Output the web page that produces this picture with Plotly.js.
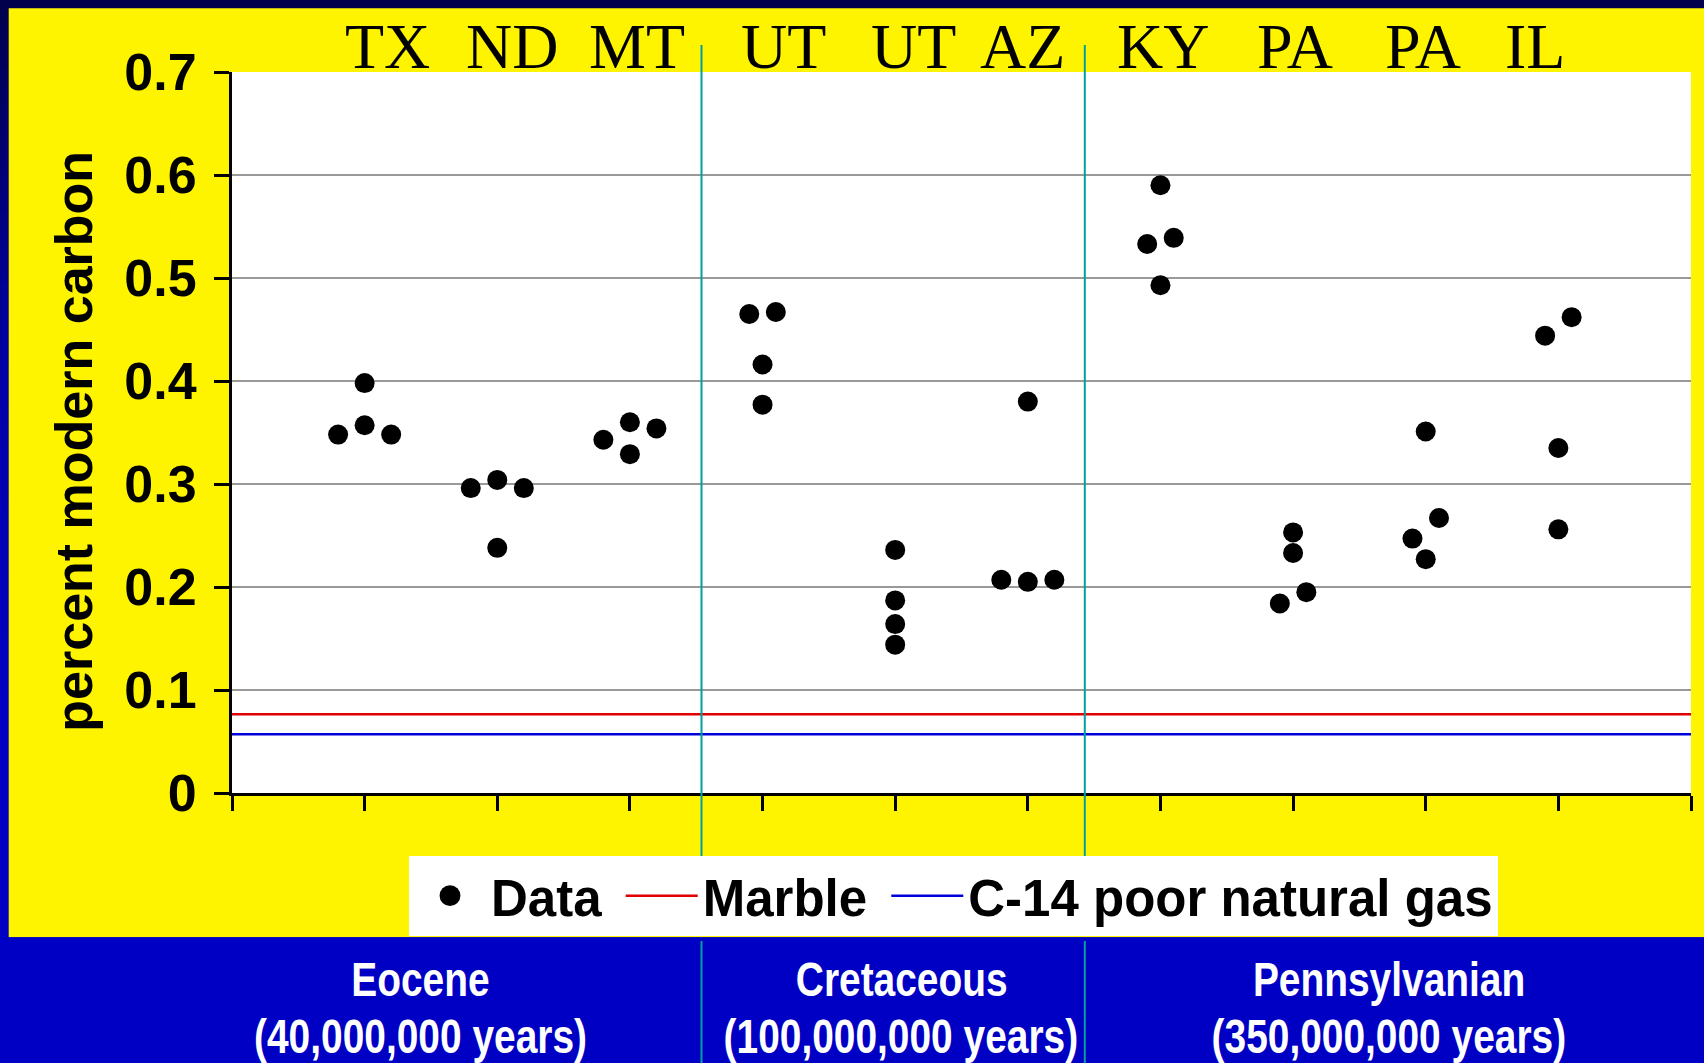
<!DOCTYPE html>
<html><head><meta charset="utf-8">
<script src="https://cdn.plot.ly/plotly-3.0.1.min.js"></script>
<style>
html,body{margin:0;padding:0;}
body{width:1704px;height:1063px;overflow:hidden;background:linear-gradient(to bottom,#00004C 0px,#0000A8 380px,#0000C2 700px,#0000C4 1063px);}
#chart{width:1704px;height:1063px;}
</style></head><body><div id="chart"></div>
<script>
// ---- data ----
const stateLabels = ['TX','ND','MT','UT','UT','AZ','KY','PA','PA','IL'];
const sampleX = [0.8,1,1,1.2, 1.8,2,2,2.2, 2.8,3,3,3.2, 3.9,4,4,4.1, 5,5,5,5,
                 5.8,6,6,6.2, 6.9,7,7,7.1, 7.9,8,8,8.1, 8.9,9,9,9.1, 9.9,10,10,10.1];
const sampleY = [0.348,0.398,0.357,0.348, 0.296,0.304,0.238,0.296, 0.343,0.360,0.329,0.354,
                 0.465,0.416,0.377,0.467, 0.236,0.187,0.164,0.144,
                 0.207,0.380,0.205,0.207, 0.533,0.590,0.493,0.539,
                 0.184,0.253,0.233,0.195, 0.247,0.351,0.227,0.267, 0.444,0.335,0.256,0.462];
const marbleLevel = 0.0765;
const gasLevel = 0.057;
const xExtent = [0, 11];
const yExtent = [0, 0.7];
const seriesNames = ['Data','Marble','C-14 poor natural gas'];
const eraNames = ['Eocene','Cretaceous','Pennsylvanian'];
const eraAges = ['(40,000,000 years)','(100,000,000 years)','(350,000,000 years)'];

// ---- layout geometry (pixels) ----
const W = 1704, H = 1063, L = 232, R = 13, T = 72, B = 270;
const PW = W - L - R, PH = H - T - B;
const px = p => (p - L) / PW;
const py = p => (H - B - p) / PH;

const SANS = 'Liberation Sans, Arial, sans-serif';
const NARROW = 'Liberation Sans Narrow, Arial Narrow, Liberation Sans, sans-serif';
const SERIF = 'Liberation Serif, Times New Roman, serif';
const NBSP = '\u00a0';

const traces = [
  {type:'scatter', mode:'markers', name:seriesNames[0] + NBSP, x:sampleX, y:sampleY,
   marker:{color:'#000000', size:20, symbol:'circle'}, cliponaxis:false},
  {type:'scatter', mode:'lines', name:seriesNames[1] + NBSP, x:xExtent, y:xExtent.map(()=>marbleLevel),
   line:{color:'#E00000', width:2.5}},
  {type:'scatter', mode:'lines', name:seriesNames[2], x:xExtent, y:xExtent.map(()=>gasLevel),
   line:{color:'#0000DD', width:2.5}}
];

const labelShift = [23,15,7,21,18,-5,3,2,-3,-23];
const eraCenters = [420.6, 901, 1389];

const annotations = [];
stateLabels.forEach((s,i)=>annotations.push({
  text:s, x:i+1, xref:'x', y:py(46.5), yref:'paper', xshift:labelShift[i],
  xanchor:'center', yanchor:'middle', showarrow:false,
  font:{family:SERIF, size:64, color:'#000'}
}));
annotations.push({
  text:'percent modern carbon', textangle:-90, x:px(73.7), xref:'paper', y:py(441), yref:'paper',
  xanchor:'center', yanchor:'middle', showarrow:false,
  font:{family:SANS, size:52, color:'#000', weight:700}
});
eraNames.forEach((n,i)=>{
  annotations.push({text:n, x:px(eraCenters[i]), xref:'paper', y:py(980), yref:'paper',
    xanchor:'center', yanchor:'middle', showarrow:false,
    font:{family:NARROW, size:48, color:'#FFFFFF', weight:700}});
  annotations.push({text:eraAges[i], x:px(eraCenters[i]), xref:'paper', y:py(1036), yref:'paper',
    xanchor:'center', yanchor:'middle', showarrow:false,
    font:{family:NARROW, size:48, color:'#FFFFFF', weight:700}});
});

const teal = '#00A0A0';
const dividers = [701.5, 1084.8];
const shapes = [
  {type:'rect', xref:'paper', yref:'paper', x0:px(8.7), x1:px(W), y0:py(8.3), y1:py(937.3),
   fillcolor:'#FFF400', line:{width:0}, layer:'below'},
  {type:'rect', xref:'paper', yref:'paper', x0:0, x1:1, y0:0, y1:1,
   fillcolor:'#FFFFFF', line:{width:0}, layer:'below'},
  {type:'rect', xref:'paper', yref:'paper', x0:px(0), x1:px(W), y0:py(937.3), y1:py(H),
   fillcolor:'#0000C4', line:{width:0}, layer:'below'}
];
dividers.forEach(d=>{
  shapes.push({type:'line', xref:'paper', yref:'paper', x0:px(d), x1:px(d), y0:py(45), y1:py(857),
    line:{color:teal, width:2}, layer:'above'});
  shapes.push({type:'line', xref:'paper', yref:'paper', x0:px(d), x1:px(d), y0:py(941), y1:py(H),
    line:{color:teal, width:2}, layer:'above'});
});

const layout = {
  width:W, height:H, margin:{l:L, r:R, t:T, b:B, pad:0},
  paper_bgcolor:'rgba(0,0,0,0)', plot_bgcolor:'#FFFFFF',
  showlegend:true,
  legend:{orientation:'h', x:px(409), y:py(856), xanchor:'left', yanchor:'top',
    bgcolor:'#FFFFFF', borderwidth:0, itemwidth:72,
    font:{family:SANS, size:51, color:'#000', weight:700}},
  xaxis:{range:xExtent, tickmode:'linear', tick0:0, dtick:1, showticklabels:false,
    ticks:'outside', ticklen:15, tickwidth:3, tickcolor:'#000',
    showline:true, linecolor:'#000', linewidth:3, showgrid:false, zeroline:false, fixedrange:true},
  yaxis:{range:yExtent, tickmode:'linear', tick0:0, dtick:0.1,
    ticks:'outside', ticklen:15, tickwidth:3, tickcolor:'#000', ticklabelstandoff:7,
    tickfont:{family:SANS, size:52, color:'#000', weight:700},
    showline:true, linecolor:'#000', linewidth:3, showgrid:true, gridcolor:'#999999', gridwidth:2.5,
    zeroline:false, fixedrange:true},
  annotations:annotations, shapes:shapes
};
Plotly.newPlot('chart', traces, layout, {displayModeBar:false, staticPlot:true}).then(gd=>{
  // the era captions use a condensed face in the original: narrow them if no narrow font exists
  const eraTexts = eraNames.concat(eraAges);
  gd.querySelectorAll('text.annotation-text').forEach(t=>{
    if(eraTexts.indexOf(t.textContent) >= 0){
      const w = t.getComputedTextLength();
      if(w > 0){
        t.setAttribute('textLength', (w*0.81).toFixed(1));
        t.setAttribute('lengthAdjust', 'spacingAndGlyphs');
      }
    }
  });
  // larger legend dot, as in the original
  gd.querySelectorAll('.legendpoints path.scatterpts').forEach(p=>{
    const tr = p.getAttribute('transform') || '';
    p.setAttribute('transform', tr + ' scale(1.3)');
  });
});
</script></body></html>
